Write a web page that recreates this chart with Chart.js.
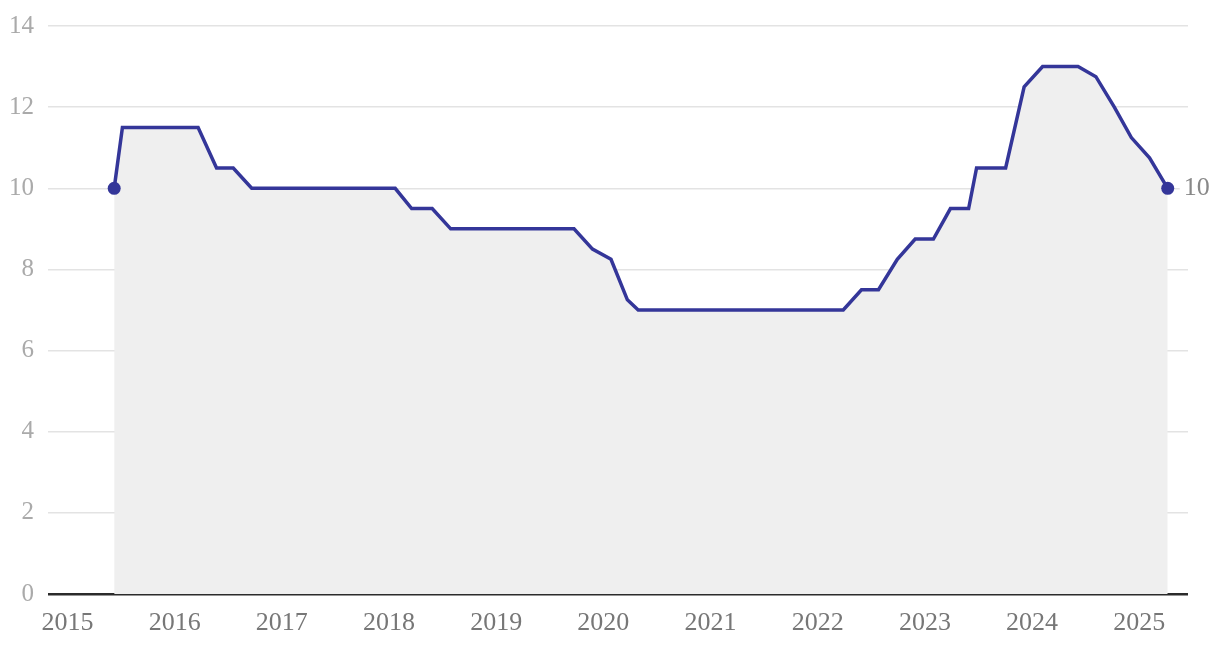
<!DOCTYPE html>
<html>
<head>
<meta charset="utf-8">
<script src="https://cdn.jsdelivr.net/npm/chart.js@4.4.1/dist/chart.umd.min.js"></script>
<style>
  html, body { margin: 0; padding: 0; background: #fff; }
  #wrap { width: 1220px; height: 648px; position: relative; }
</style>
</head>
<body>
<div id="wrap"><canvas id="chart"></canvas></div>
<script>
// policy rate decisions (meeting dates) and the rate set there
const dates = [
  "2015-06-09", "2015-07-07", "2016-03-21", "2016-05-23", "2016-07-19",
  "2016-09-20", "2018-01-22", "2018-03-19", "2018-05-28", "2018-07-30",
  "2019-09-23", "2019-11-25", "2020-01-27", "2020-03-23", "2020-04-29",
  "2022-03-29", "2022-05-30", "2022-07-27", "2022-09-29", "2022-11-29",
  "2023-01-30", "2023-03-29", "2023-05-30", "2023-06-26", "2023-10-03",
  "2023-12-05", "2024-02-06", "2024-06-06", "2024-08-06", "2024-10-08",
  "2024-12-05", "2025-02-05", "2025-04-08"
];
const rates = [
  10, 11.5, 11.5, 10.5, 10.5,
  10, 10, 9.5, 9.5, 9,
  9, 8.5, 8.25, 7.25, 7,
  7, 7.5, 7.5, 8.25, 8.75,
  8.75, 9.5, 9.5, 10.5, 10.5,
  12.5, 13, 13, 12.75, 12,
  11.25, 10.75, 10
];
const yearTicks = [2015, 2016, 2017, 2018, 2019, 2020, 2021, 2022, 2023, 2024, 2025];
const rateTicks = [0, 2, 4, 6, 8, 10, 12, 14];

const FONT = "'Liberation Serif', 'Times New Roman', serif";

function toYear(s) {
  const d = new Date(s + "T00:00:00Z");
  const y = d.getUTCFullYear();
  const start = Date.UTC(y, 0, 1);
  const end = Date.UTC(y + 1, 0, 1);
  return y + (d.getTime() - start) / (end - start);
}

const points = dates.map((s, i) => ({ x: toYear(s), y: rates[i] }));
const last = points.length - 1;

// value label to the right of the last point
const endLabel = {
  id: "endLabel",
  afterDatasetsDraw(chart) {
    const pt = chart.getDatasetMeta(0).data[last];
    const ctx = chart.ctx;
    ctx.save();
    ctx.fillStyle = "#fff";
    ctx.fillRect(pt.x + 12, pt.y - 12, 34, 24);
    ctx.font = "26px " + FONT;
    ctx.fillStyle = "#888";
    ctx.textAlign = "left";
    ctx.textBaseline = "middle";
    ctx.fillText(String(rates[last]), pt.x + 16, pt.y);
    ctx.restore();
  }
};

new Chart(document.getElementById("chart").getContext("2d"), {
  type: "line",
  data: {
    datasets: [{
      data: points,
      borderColor: "#343699",
      borderWidth: 3.5,
      backgroundColor: "#efefef",
      fill: "origin",
      tension: 0,
      pointRadius: (c) => (c.dataIndex === 0 || c.dataIndex === last ? 6.5 : 0),
      pointBackgroundColor: "#343699",
      pointBorderWidth: 0,
      pointHoverRadius: 0
    }]
  },
  options: {
    responsive: true,
    maintainAspectRatio: false,
    animation: false,
    layout: { padding: { top: 26, right: 32, left: 0, bottom: 0 } },
    plugins: {
      legend: { display: false },
      tooltip: { enabled: false }
    },
    scales: {
      x: {
        type: "linear",
        min: 2014.818,
        max: 2025.455,
        afterBuildTicks: (s) => { s.ticks = yearTicks.map((v) => ({ value: v })); },
        afterFit: (s) => { s.height = 54; s.paddingLeft = 0; s.paddingRight = 0; },
        grid: { display: false, drawTicks: false },
        border: { display: false },
        ticks: {
          padding: 14,
          color: "#777",
          font: { family: FONT, size: 26 },
          callback: (v) => String(v),
          maxRotation: 0,
          autoSkip: false
        }
      },
      y: {
        min: 0,
        max: 14,
        afterBuildTicks: (s) => { s.ticks = rateTicks.map((v) => ({ value: v })); },
        afterFit: (s) => { s.width = 48; s.paddingTop = 0; s.paddingBottom = 0; },
        border: { display: false },
        grid: {
          drawTicks: false,
          color: (c) => (c.tick && c.tick.value === 0 ? "#2b2b2b" : "#e3e3e3"),
          lineWidth: (c) => (c.tick && c.tick.value === 0 ? 2.5 : 1.5)
        },
        ticks: {
          padding: 14,
          color: "#aaa",
          font: { family: FONT, size: 25 }
        }
      }
    }
  },
  plugins: [endLabel]
});
</script>
</body>
</html>
